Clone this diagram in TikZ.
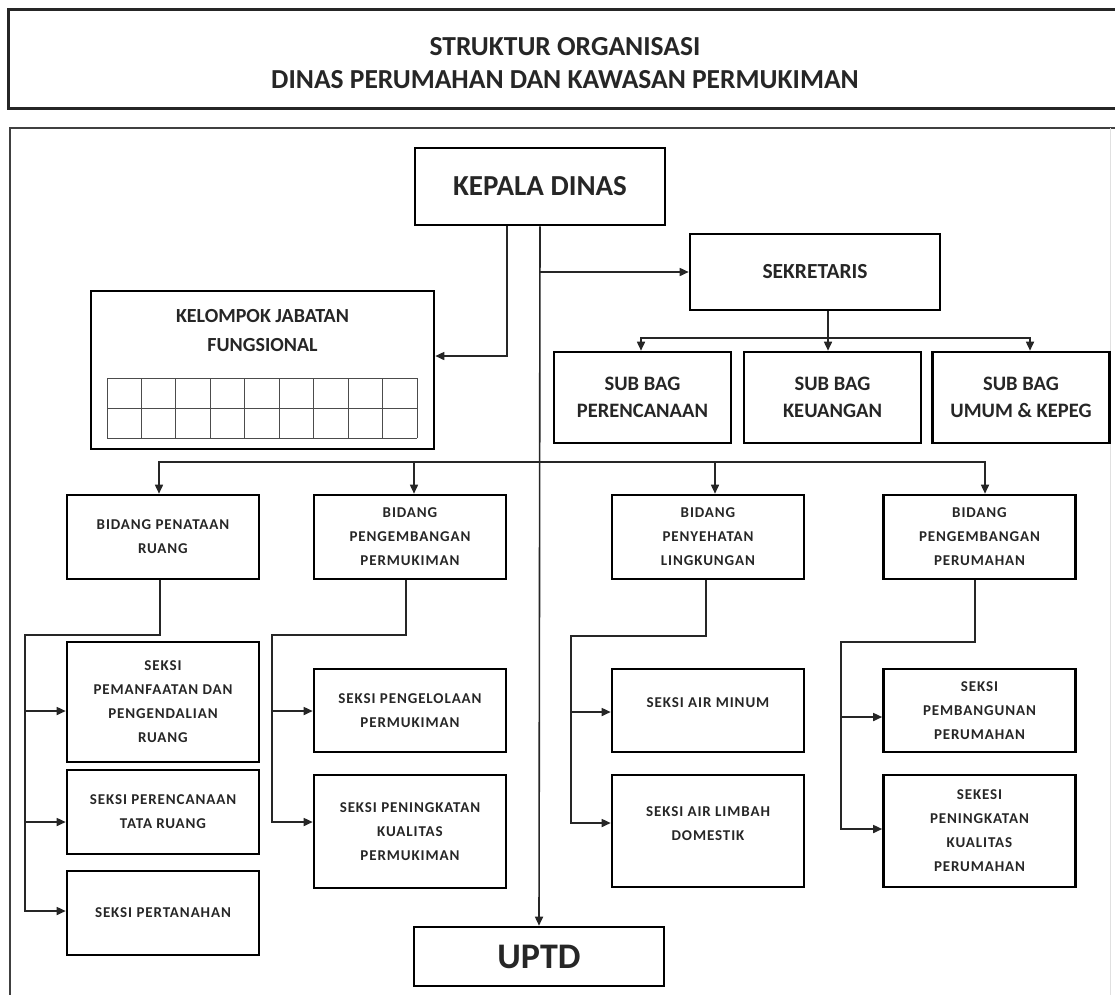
\documentclass[tikz,border=0pt]{standalone}
\usepackage{fontspec}
\setmainfont{Carlito}
\newfontfamily\boxfont{Carlito}[LetterSpace=6]
\usepackage{tikz}
\usetikzlibrary{arrows.meta}

\begin{document}
\begin{tikzpicture}[x=1pt,y=-1pt,>={Triangle[length=9pt,width=8pt]},line width=1.6pt]
  \tikzstyle{box}=[draw,line width=2.6pt,align=center,inner sep=0pt,text=black!85]
  \tikzstyle{bidang}=[box,minimum width=192pt,font=\boxfont\bfseries\fontsize{15}{24}\selectfont]
  \tikzstyle{subbag}=[box,minimum width=177pt,minimum height=91pt,font=\bfseries\fontsize{20.5}{27}\selectfont]
  \tikzstyle{conn}=[line width=1.6pt,black!85]
  \tikzstyle{arr}=[conn,->]
  \tikzstyle{gridline}=[line width=0.8pt,black!70]

  \clip (0,0) rectangle (1115,994);

  % frames
  \draw[line width=3pt,black!85] (8,9) rectangle (1130,108);
  \draw[line width=2pt,black!75] (10,1010) -- (10,128) -- (1130,128);
  \draw[line width=1pt,black!12] (1110,128) -- (1110,1010);
  \node[font=\bfseries\fontsize{27.5}{33}\selectfont,align=center,text=black!85] (title) at (565,63.5)
    {STRUKTUR ORGANISASI\\DINAS PERUMAHAN DAN KAWASAN PERMUKIMAN};

  % pimpinan
  \node[box,minimum width=250pt,minimum height=77pt,font=\bfseries\fontsize{29}{30}\selectfont] (kepala) at (540,186.5) {KEPALA DINAS};
  \node[box,minimum width=250pt,minimum height=76pt,font=\bfseries\fontsize{21.5}{26}\selectfont] (sekretaris) at (815,272) {SEKRETARIS};
  \node[subbag] (sbren)  at (642.5,397.5) {SUB BAG\\PERENCANAAN};
  \node[subbag] (sbkeu)  at (832.5,397.5) {SUB BAG\\KEUANGAN};
  \node[subbag] (sbumum) at (1021,397.5)  {SUB BAG\\UMUM \& KEPEG};

  \node[box,minimum width=343pt,minimum height=158pt] (kjf) at (262.5,370) {};
  \node[font=\bfseries\fontsize{20}{29}\selectfont,align=center,text=black!85] (kjftext) at (262.5,330.5) {KELOMPOK JABATAN\\FUNGSIONAL};
  \foreach \i in {0,...,9}
    \draw[gridline] ({107+34.44*\i},378) -- ({107+34.44*\i},438);
  \foreach \j in {378,408,438}
    \draw[gridline] (107,\j) -- (417,\j);

  \node[box,minimum width=250pt,minimum height=59pt,font=\bfseries\fontsize{36}{40}\selectfont] (uptd) at (539,956.5) {UPTD};

  % bidang
  \node[bidang,minimum height=84pt] (bpr)   at (163,537)   {BIDANG PENATAAN\\RUANG};
  \node[bidang,minimum height=84pt] (bpp)   at (410,537)   {BIDANG\\PENGEMBANGAN\\PERMUKIMAN};
  \node[bidang,minimum height=84pt] (bpl)   at (708,537)   {BIDANG\\PENYEHATAN\\LINGKUNGAN};
  \node[bidang,minimum height=84pt] (bpper) at (979.5,537) {BIDANG\\PENGEMBANGAN\\PERUMAHAN};

  % seksi
  \node[bidang,minimum height=120pt] (spdr) at (163,702) {SEKSI\\PEMANFAATAN DAN\\PENGENDALIAN\\RUANG};
  \node[bidang,minimum height=84pt]  (sptr) at (163,812) {SEKSI PERENCANAAN\\TATA RUANG};
  \node[bidang,minimum height=84pt]  (spt)  at (163,913) {SEKSI PERTANAHAN};
  \node[bidang,minimum height=83pt]  (spp)  at (410,710.5) {SEKSI PENGELOLAAN\\PERMUKIMAN};
  \node[bidang,minimum height=113pt] (spkp) at (410,831.5) {SEKSI PENINGKATAN\\KUALITAS\\PERMUKIMAN};
  \node[bidang,minimum height=83pt,text depth=16pt]  (sam) at (708,710.5) {SEKSI AIR MINUM};
  \node[bidang,minimum height=112pt,text depth=14pt] (sal) at (708,831)   {SEKSI AIR LIMBAH\\DOMESTIK};
  \node[bidang,minimum height=83pt]  (spbp)   at (979.5,710.5) {SEKSI\\PEMBANGUNAN\\PERUMAHAN};
  \node[bidang,minimum height=112pt] (spkper) at (979.5,831)   {SEKESI\\PENINGKATAN\\KUALITAS\\PERUMAHAN};

  % garis komando
  \draw[arr] (kepala.south) -- (uptd.north);
  \draw[arr] ([xshift=-33pt]kepala.south) |- ([yshift=14pt]kjf.east);
  \draw[arr] (kepala.south |- sekretaris.west) -- (sekretaris.west);

  \coordinate (sbbar) at (828,338);
  \draw[conn] ([xshift=13pt]sekretaris.south) -- (sbbar);
  \draw[arr] (sbbar) -| ([xshift=-1.5pt]sbren.north);
  \draw[arr] (sbbar) -| ([xshift=-4.5pt]sbkeu.north);
  \draw[arr] (sbbar) -| ([xshift=9pt]sbumum.north);

  \coordinate (bus) at (540,462);
  \draw[arr] (bus) -| ([xshift=-4pt]bpr.north);
  \draw[arr] (bus) -| ([xshift=4pt]bpp.north);
  \draw[arr] (bus) -| ([xshift=7pt]bpl.north);
  \draw[arr] (bus) -| ([xshift=5.5pt]bpper.north);

  \coordinate (sp1) at (25,635);
  \draw[arr] ([xshift=-3pt]bpr.south) |- (sp1) |- ([yshift=-9pt]spdr.west);
  \draw[arr] (sp1) |- ([yshift=-10pt]sptr.west);
  \draw[arr] (sp1) |- ([yshift=2pt]spt.west);

  \coordinate (sp2) at (272,635);
  \draw[arr] ([xshift=-4pt]bpp.south) |- (sp2) |- ([yshift=-0.5pt]spp.west);
  \draw[arr] (sp2) |- ([yshift=9.5pt]spkp.west);

  \coordinate (sp3) at (571,636);
  \draw[arr] ([xshift=-2pt]bpl.south) |- (sp3) |- ([yshift=-1.5pt]sam.west);
  \draw[arr] (sp3) |- ([yshift=8pt]sal.west);

  \coordinate (sp4) at (841,642);
  \draw[arr] ([xshift=-4.5pt]bpper.south) |- (sp4) |- ([yshift=-6.5pt]spbp.west);
  \draw[arr] (sp4) |- ([yshift=2pt]spkper.west);
\end{tikzpicture}
\end{document}
